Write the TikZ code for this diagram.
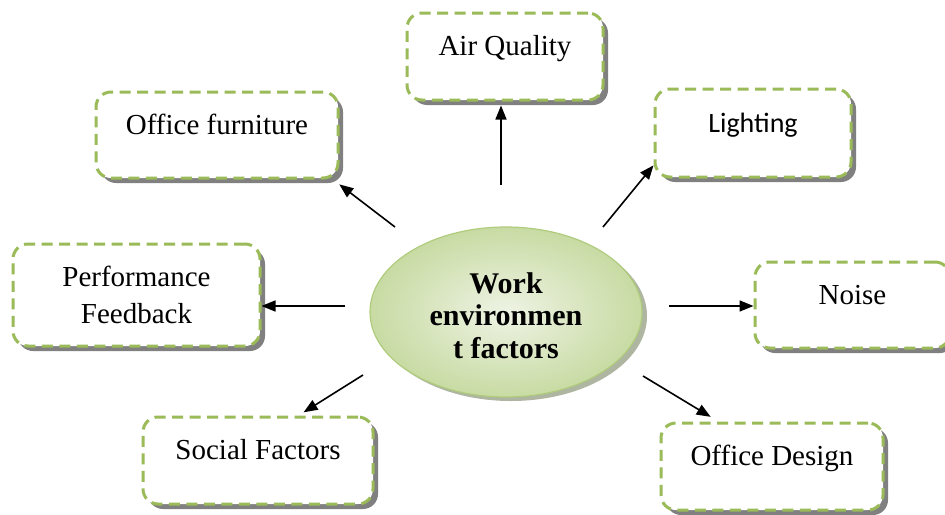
\documentclass[tikz,border=0pt]{standalone}
\usepackage{fontspec}
\setmainfont{Liberation Serif}
\newfontfamily\calibrifont{Carlito}
\usetikzlibrary{arrows.meta,shapes.geometric,shadows,calc}
\definecolor{boxgreen}{RGB}{155,187,89}
\definecolor{shadowgray}{RGB}{128,128,128}
\definecolor{elllight}{RGB}{238,243,228}
\definecolor{elldark}{RGB}{200,219,163}
\definecolor{ellborder}{RGB}{175,204,125}
\definecolor{ellshadow}{RGB}{140,150,120}
\begin{document}
\begin{tikzpicture}[x=1pt,y=-1pt,
  factorbox/.style={draw=boxgreen, line width=3pt, dash pattern=on 11pt off 6.5pt,
    rounded corners=15pt, fill=white, inner sep=0pt,
    drop shadow={shadow xshift=5pt, shadow yshift=-5pt, fill=shadowgray, opacity=1}},
  lbl/.style={font=\fontsize{29}{37}\selectfont, inner sep=0pt, anchor=base, align=center},
  arr/.style={line width=1.6pt, -{Triangle[length=14pt,width=11pt]}},
  hub/.style={ellipse, draw=ellborder, line width=1.2pt, inner color=elllight,
    outer color=elldark, minimum width=272pt, minimum height=170pt, inner sep=0pt,
    drop shadow={shadow xshift=5pt, shadow yshift=-4pt, fill=ellshadow, opacity=0.7}},
  hubtext/.style={font=\bfseries\fontsize{30}{32.5}\selectfont, align=center, inner sep=0pt, anchor=base}]
\path[use as bounding box, clip] (0,0) rectangle (945,514);
\fill[white] (0,0) rectangle (945,514);

% hub
\node[hub] (wef) at (506,312) {};
\node[hubtext] (wefT) at (506,358) {Work\\environmen\\t factors};

% boxes
\node[factorbox, minimum width=196pt, minimum height=87pt] (aq) at (505,56.5) {};
\node[factorbox, minimum width=242pt, minimum height=86pt] (of) at (217,135) {};
\node[factorbox, minimum width=196pt, minimum height=88pt] (li) at (753,133) {};
\node[factorbox, minimum width=247pt, minimum height=102pt] (pf) at (136.5,295) {};
\node[factorbox, minimum width=195pt, minimum height=86pt] (no) at (852.5,305) {};
\node[factorbox, minimum width=230pt, minimum height=87pt] (sf) at (258,460.5) {};
\node[factorbox, minimum width=222pt, minimum height=87pt] (od) at (772,466.5) {};

% labels
\node[lbl] (aqT) at ($(aq.north)+(0,44)$) {Air Quality};
\node[lbl] (ofT) at ($(of.north)+(0,44)$) {Office furniture};
\node[lbl, font=\calibrifont\fontsize{28}{34}\selectfont] (liT) at ($(li.north)+(0,45)$) {Lighting};
\node[lbl] (pfT) at ($(pf.north)+(0,81)$) {Performance\\Feedback};
\node[lbl] (noT) at ($(no.north)+(0,44)$) {Noise};
\node[lbl] (sfT) at ($(sf.north)+(0,44)$) {Social Factors};
\node[lbl] (odT) at ($(od.north)+(0,44)$) {Office Design};

% arrow start points
\coordinate (sAQ) at (501,185);
\coordinate (sOF) at (395,227);
\coordinate (sLI) at (603,227);
\coordinate (sPF) at (345,306);
\coordinate (sNO) at (669,306);
\coordinate (sSF) at (363,375);
\coordinate (sOD) at (643,376);

% arrows
\draw[arr, shorten >=4pt] (sAQ) -- (sAQ |- aq.south);
\draw[arr, shorten >=8pt] (sOF) -- (of.-21);
\draw[arr] (sLI) -- (li.198);
\draw[arr] (sPF) -- (sPF -| pf.east);
\draw[arr] (sNO) -- (sNO -| no.west);
\draw[arr, shorten >=6pt] (sSF) -- (sf.48);
\draw[arr, shorten >=9pt] (sOD) -- (od.140);
\end{tikzpicture}
\end{document}
